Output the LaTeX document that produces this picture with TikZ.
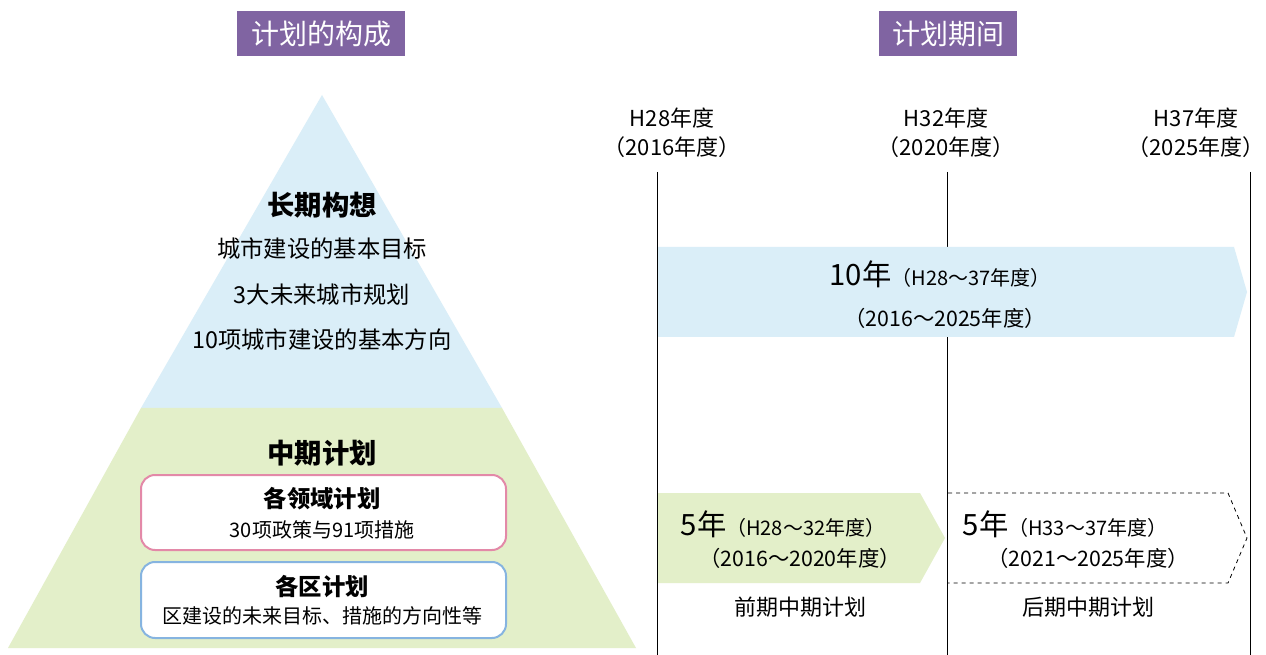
\documentclass[tikz,border=0pt]{standalone}
\usepackage{fontspec}
\setmainfont{Noto Sans CJK SC}
\begin{document}
\begin{tikzpicture}[x=0.75pt,y=-0.75pt,
  fbig/.style={font=\fontsize{21pt}{25pt}\selectfont},
  fhead/.style={font=\fontsize{20.5pt}{24pt}\selectfont\bfseries},
  fsub/.style={font=\fontsize{17.5pt}{21pt}\selectfont\bfseries},
  fbody/.style={font=\fontsize{17.5pt}{21pt}\selectfont},
  fsmall/.style={font=\fontsize{15pt}{18pt}\selectfont},
  ftime/.style={font=\fontsize{16.5pt}{22pt}\selectfont, align=center},
  titlebox/.style={fill=purpleT, text=white, fbig, minimum height=45*0.75pt, inner xsep=10pt},
  vline/.style={draw=black, line width=0.75pt},
  ibox/.style={draw, fill=white, rounded corners=14*0.75pt, line width=1.5pt}
]
\definecolor{purpleT}{HTML}{8064A2}
\definecolor{lblue}{HTML}{DAEEF8}
\definecolor{lgreen}{HTML}{E3EFC9}
\definecolor{pinkB}{HTML}{E389A8}
\definecolor{blueB}{HTML}{86B4E0}
\useasboundingbox (0,0) rectangle (1266,655);
\fill[white] (0,0) rectangle (1266,655);

% titles
\node[titlebox, minimum width=168*0.75pt] (t1) at (321,34) {计划的构成};
\node[titlebox, minimum width=137*0.75pt] (t2) at (948,34) {计划期间};

% pyramid
\fill[lblue] (322,95) -- (502,408) -- (141,408) -- cycle;
\fill[lgreen] (141,408) -- (502,408) -- (636,648) -- (8,648) -- cycle;

\node[fhead] (lp) at (322,205) {长期构想};
\node[fbody] (lp1) at (322,249) {城市建设的基本目标};
\node[fbody] (lp2) at (322,295) {3大未来城市规划};
\node[fbody] (lp3) at (322,340) {10项城市建设的基本方向};
\node[fhead] (mp) at (322,453) {中期计划};

\draw[ibox, draw=pinkB] (141,475) rectangle (506,550);
\node[fsub] (f1) at (322,499) {各领域计划};
\node[fsmall] (f2) at (322,530) {30项政策与91项措施};
\draw[ibox, draw=blueB] (141,562) rectangle (506,638);
\node[fsub] (d1) at (322,587) {各区计划};
\node[fsmall] (d2) at (322,616) {区建设的未来目标、措施的方向性等};

% timeline
\coordinate (a1) at (657,172); \coordinate (b1) at (657,655);
\coordinate (a2) at (947,172); \coordinate (b2) at (947,655);
\coordinate (a3) at (1250,172); \coordinate (b3) at (1250,655);
\draw[vline] (a1) -- (b1);
\draw[vline] (a2) -- (b2);
\draw[vline] (a3) -- (b3);
\node[ftime] (y1) at (672,133) {H28年度\\（2016年度）};
\node[ftime] (y2) at (946,133) {H32年度\\（2020年度）};
\node[ftime] (y3) at (1196,133) {H37年度\\（2025年度）};

% long arrow
\fill[lblue] (658,247) -- (1234,247) -- (1247,292) -- (1234,337) -- (658,337) -- cycle;
\node (ten) at (940,274) {{\fontsize{22pt}{26pt}\selectfont 10年}{\fontsize{15pt}{18pt}\selectfont （H28～37年度）}};
\node[font=\fontsize{16pt}{19pt}\selectfont] (ten2) at (945,318) {（2016～2025年度）};

% green arrow
\fill[lgreen] (658,493) -- (920,493) -- (945,538) -- (920,583) -- (658,583) -- cycle;
\node[anchor=west] (g1) at (676,524) {{\fontsize{22pt}{26pt}\selectfont 5年}{\fontsize{15pt}{18pt}\selectfont （H28～32年度）}};
\node[font=\fontsize{16pt}{19pt}\selectfont] (g2) at (800,558) {（2016～2020年度）};
\node[font=\fontsize{16.5pt}{20pt}\selectfont] (g3) at (800,607) {前期中期计划};

% dashed arrow
\draw[dashed, line width=0.6pt] (948,493) -- (1228,493) -- (1247,538) -- (1228,583) -- (948,583);
\node[anchor=west] (h1) at (958,524) {{\fontsize{22pt}{26pt}\selectfont 5年}{\fontsize{15pt}{18pt}\selectfont （H33～37年度）}};
\node[font=\fontsize{16pt}{19pt}\selectfont] (h2) at (1088,558) {（2021～2025年度）};
\node[font=\fontsize{16.5pt}{20pt}\selectfont] (h3) at (1088,607) {后期中期计划};
\end{tikzpicture}
\end{document}
